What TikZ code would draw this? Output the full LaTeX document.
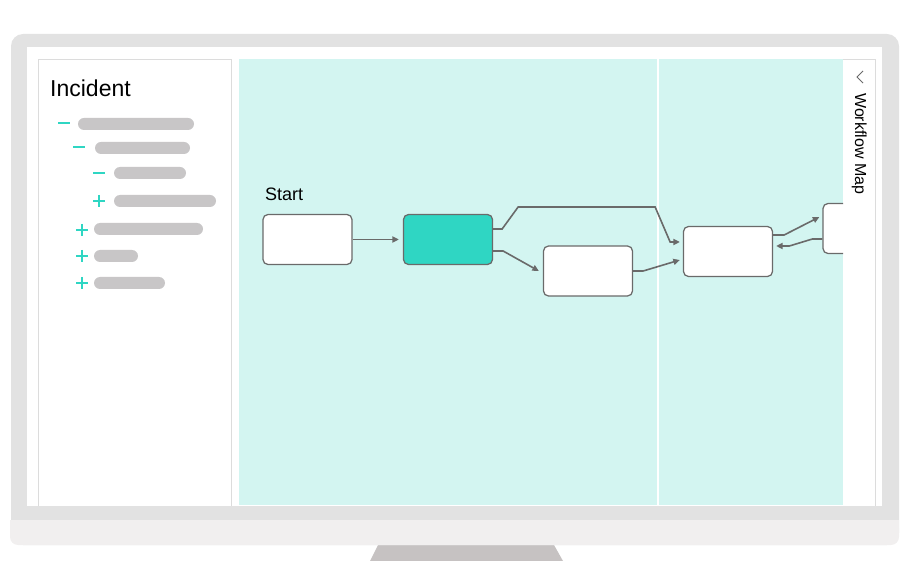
\documentclass[tikz,border=0pt]{standalone}
\usepackage{fontspec}
\setmainfont{Liberation Sans}
\usetikzlibrary{arrows.meta,calc}

\definecolor{bezel}{HTML}{E2E2E2}
\definecolor{chin}{HTML}{F1EFEF}
\definecolor{standgray}{HTML}{C6C2C2}
\definecolor{canvasbg}{HTML}{D3F5F1}
\definecolor{accent}{HTML}{2FD6C3}
\definecolor{barcol}{HTML}{C8C6C7}
\definecolor{edgecol}{HTML}{6A6A6A}
\definecolor{panelline}{HTML}{DCDCDC}

\tikzset{
  stepbox/.style={draw=edgecol, line width=1.25pt, fill=white, rounded corners=5pt,
    minimum width=89pt, minimum height=50pt, inner sep=0pt},
  flow/.style={draw=edgecol, line width=1.6pt, -{Triangle[length=6.5pt,width=6pt]}},
  treebar/.style={fill=barcol, rounded corners=6pt},
  treemark/.style={draw=accent, line width=2pt},
}

\begin{document}
\begin{tikzpicture}[x=1pt,y=-1pt]
\useasboundingbox (0,0) rectangle (900,561);

% monitor body, chin and stand
\fill[standgray] (378,545) -- (554,545) -- (563,561) -- (370,561) -- cycle;
\fill[bezel, rounded corners=12pt] (11,34) rectangle (899,545);
\fill[chin, rounded corners=8pt] (10,520) -- (10,545) -- (899,545) -- (899,520) [sharp corners] -- cycle;
\fill[chin] (10,520) rectangle (899,530);

% screen
\fill[white] (27,47) rectangle (882,506);

% left tree panel
\draw[panelline, line width=0.8pt] (38,506) -- (38,59) -- (231,59) -- (231,506);
\node[anchor=base west, inner sep=0pt, font=\fontsize{23}{23}\selectfont] (title) at (50,97) {Incident};

\draw[treemark] (58,123) -- (70,123);
\fill[treebar] (78,118) rectangle (194,130);
\draw[treemark] (73,147) -- (85,147);
\fill[treebar] (95,142) rectangle (190,154);
\draw[treemark] (93,173) -- (105,173);
\fill[treebar] (114,167) rectangle (186,179);
\draw[treemark] (93,201) -- (105,201) (99,195) -- (99,207);
\fill[treebar] (114,195) rectangle (216,207);
\draw[treemark] (76,230) -- (88,230) (82,224) -- (82,236);
\fill[treebar] (94,223) rectangle (203,235);
\draw[treemark] (76,256) -- (88,256) (82,250) -- (82,262);
\fill[treebar] (94,250) rectangle (138,262);
\draw[treemark] (76,283) -- (88,283) (82,277) -- (82,289);
\fill[treebar] (94,277) rectangle (165,289);

% workflow canvas
\fill[canvasbg] (239,59) rectangle (843,505);
\draw[white, line width=1.8pt] (658,59) -- (658,505);

% right collapsed panel
\draw[panelline, line width=0.8pt] (843,59) -- (875,59) -- (875,506);
\draw[edgecol, line width=0.8pt] (863,71) -- (857,77) -- (863,83);
\node[rotate=-90, anchor=base west, inner sep=0pt, font=\fontsize{16}{16}\selectfont] (maplabel) at (855,93) {Workflow Map};

% workflow steps
\node[anchor=base west, inner sep=0pt, font=\fontsize{18}{18}\selectfont] (startlabel) at (265,201) {Start};
\node[stepbox] (m1) at (307.5,239.5) {};
\node[stepbox, fill=accent] (m2) at (448,239.5) {};
\node[stepbox] (m3) at (588,271) {};
\node[stepbox] (m4) at (728,251.5) {};
\begin{scope}
  \clip (239,59) rectangle (843,505);
  \node[stepbox] (m5) at (867.5,228.5) {};
\end{scope}

% connectors
\draw[flow] (m1.east) -- ([xshift=-4pt]m2.west);
\draw[flow] ([yshift=10.5pt]m2.east) -- ++(9,0) -- ++(16,-22) -- ++(137,0) -- ++(15,35)
  -- ([xshift=-3pt,yshift=9.5pt]m4.west);
\draw[flow] ([yshift=-11.5pt]m2.east) -- ++(10,0) -- ([xshift=-4pt]m3.west);
\draw[flow] (m3.east) -- ++(10,0) -- ([xshift=-3pt,yshift=-8.5pt]m4.west);
\draw[flow] ([yshift=16.5pt]m4.east) -- ++(11,0) -- ([xshift=-3pt,yshift=11.5pt]m5.west);
\draw[flow] ([yshift=-10.5pt]m5.west) -- ++(-10,0) -- ++(-23,7) -- ([xshift=3pt,yshift=5.5pt]m4.east);
\end{tikzpicture}
\end{document}
